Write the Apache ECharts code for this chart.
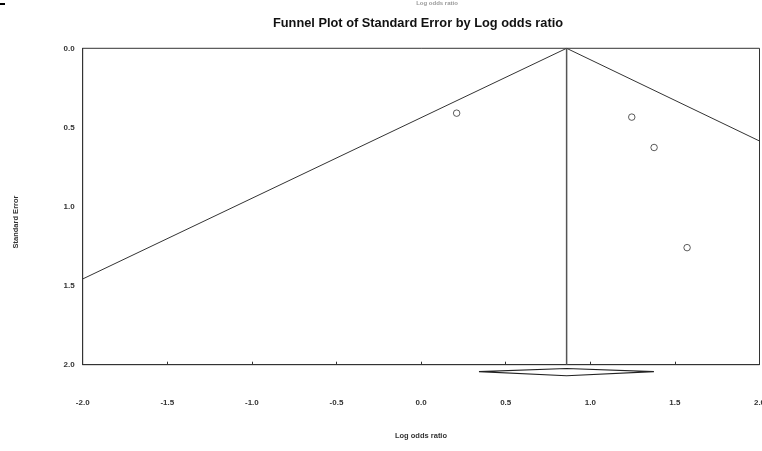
<!DOCTYPE html>
<html>
<head>
<meta charset="utf-8">
<script src="https://cdn.jsdelivr.net/npm/echarts@6/dist/echarts.min.js"></script>
<style>html,body{margin:0;padding:0;background:#fff}#c{width:762px;height:451px}</style>
</head>
<body>
<div id="c"></div>
<script>
// Data
var studyLogOR = [0.21, 1.245, 1.377, 1.572];
var studySE = [0.41, 0.435, 0.627, 1.26];
var meanLogOR = 0.86;
var funnelX = [-2.0, 0.86, 2.0];
var funnelSE = [1.458, 0.0, 0.586];
var diamondX = [0.342, 0.86, 1.376, 0.86, 0.342];
var diamondY = [2.044, 2.024, 2.044, 2.07, 2.044];
var xTicks = ['-2.0', '-1.5', '-1.0', '-0.5', '0.0', '0.5', '1.0', '1.5', '2.0'];
var yTicks = ['0.0', '0.5', '1.0', '1.5', '2.0'];

var FONT = "'Liberation Sans Narrow', 'Liberation Sans', Arial, sans-serif";

function zip(a, b) { return a.map(function (v, i) { return [v, b[i]]; }); }

var chart = echarts.init(document.getElementById('c'), null, { renderer: 'canvas' });
chart.setOption({
  animation: false,
  backgroundColor: '#ffffff',
  grid: { left: 82.7, top: 48.3, right: 2.5, bottom: 86.3, containLabel: false, outerBoundsMode: 'none', show: true, borderColor: '#333', borderWidth: 1, backgroundColor: 'transparent' },
  xAxis: {
    type: 'value', min: -2, max: 2, interval: 0.5, position: 'bottom',
    axisLine: { show: true, onZero: false, lineStyle: { color: '#333', width: 1 } },
    axisTick: { show: true, inside: true, length: 3, lineStyle: { color: '#333' } },
    splitLine: { show: false },
    axisLabel: {
      margin: 34, fontSize: 8, fontWeight: 'bold', color: '#333', fontFamily: FONT,
      formatter: function (v) { var i = Math.round((v + 2) / 0.5); return xTicks[i]; }
    }
  },
  yAxis: {
    type: 'value', min: 0, max: 2, interval: 0.5, inverse: true, position: 'left',
    axisLine: { show: true, onZero: false, lineStyle: { color: '#333', width: 1 } },
    axisTick: { show: false },
    splitLine: { show: false },
    axisLabel: {
      margin: 8, fontSize: 8, fontWeight: 'bold', color: '#333', fontFamily: FONT,
      formatter: function (v) { var i = Math.round(v / 0.5); return yTicks[i]; }
    }
  },
  graphic: [
    { type: 'rect', left: 0, top: 3, shape: { width: 5, height: 2 }, style: { fill: '#000' } },
    { type: 'text', x: 437, y: 0, style: { text: 'Log odds ratio', fontSize: 6, fontWeight: 'bold', fill: '#999', fontFamily: FONT, textAlign: 'center', textVerticalAlign: 'top' } },
    { type: 'text', x: 418, y: 17, style: { text: 'Funnel Plot of Standard Error by Log odds ratio', fontSize: 12.8, fontWeight: 'bold', fill: '#111', fontFamily: FONT, textAlign: 'center', textVerticalAlign: 'top' } },
    { type: 'text', x: 421, y: 436, style: { text: 'Log odds ratio', fontSize: 7.5, fontWeight: 'bold', fill: '#333', fontFamily: FONT, textAlign: 'center', textVerticalAlign: 'middle' } },
    { type: 'text', x: 16, y: 222, rotation: Math.PI / 2, style: { text: 'Standard Error', fontSize: 7.5, fontWeight: 'bold', fill: '#333', fontFamily: FONT, textAlign: 'center', textVerticalAlign: 'middle' } }
  ],
  series: [
    { type: 'line', data: zip(funnelX, funnelSE), symbol: 'none', lineStyle: { color: '#333', width: 1 }, silent: true },
    { type: 'line', data: [[meanLogOR, 0], [meanLogOR, 2]], symbol: 'none', lineStyle: { color: '#555', width: 1.5 }, silent: true },
    { type: 'scatter', data: zip(studyLogOR, studySE), symbol: 'circle', symbolSize: 6.5, itemStyle: { color: '#fff', borderColor: '#333', borderWidth: 1 } },
    { type: 'line', data: zip(diamondX, diamondY), symbol: 'none', clip: false, lineStyle: { color: '#222', width: 1.2 }, silent: true }
  ]
});
</script>
</body>
</html>
